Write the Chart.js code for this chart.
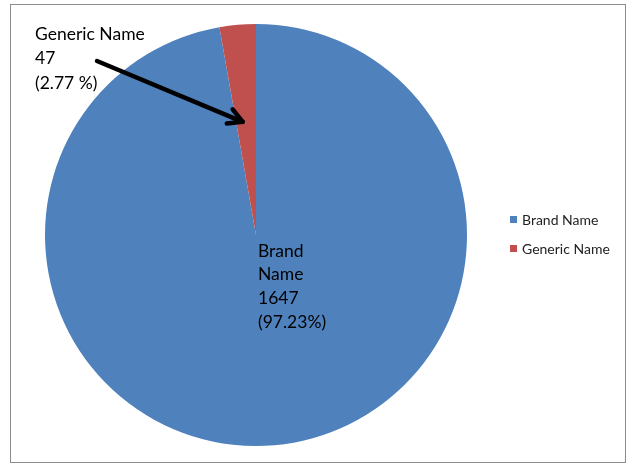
<!DOCTYPE html>
<html>
<head>
<meta charset="utf-8">
<script src="https://cdn.jsdelivr.net/npm/chart.js@4.4.0/dist/chart.umd.min.js"></script>
<style>
  body { margin: 0; background: #fff; }
  #box {
    position: absolute; left: 10px; top: 4px;
    width: 614px; height: 457px;
    border: 1px solid #8c8c8c;
  }
</style>
</head>
<body>
<div id="box"><canvas id="pieChart" width="614" height="457"></canvas></div>
<script>
// data
const categories = ['Brand Name', 'Generic Name'];
const counts = [1647, 47];
const percentLabels = ['(97.23%)', '(2.77 %)'];
const sliceColors = ['#4F81BD', '#C0504D'];

const labelFont = '17.5px Lato, "Open Sans", sans-serif';

// labels, arrow and legend drawn after the pie
const annotate = {
    id: 'annotate',
    afterDraw(chart) {
        const ctx = chart.ctx;
        const arcs = chart.getDatasetMeta(0).data;
        const cx = arcs[0].x, cy = arcs[0].y, r = arcs[0].outerRadius;

        ctx.save();
        ctx.fillStyle = '#000';
        ctx.font = labelFont;
        ctx.textBaseline = 'middle';
        ctx.textAlign = 'left';

        // brand label inside the big slice
        const brandLines = ['Brand', 'Name', String(counts[0]), percentLabels[0]];
        brandLines.forEach((t, i) => ctx.fillText(t, cx + 2, cy + 16 + i * 23.7));

        // generic label outside, top-left
        const gx = cx - 221, gy = cy - 201;
        const genLines = [categories[1], String(counts[1]), percentLabels[1]];
        genLines.forEach((t, i) => ctx.fillText(t, gx, gy + i * 24.5));

        // arrow pointing to the small slice
        const g = arcs[1];
        const mid = (g.startAngle + g.endAngle) / 2;
        const tipX = cx + Math.cos(mid - 0.03) * r * 0.54;
        const tipY = cy + Math.sin(mid - 0.03) * r * 0.54;
        const tailX = gx + 62, tailY = gy + 27;
        const ang = Math.atan2(tipY - tailY, tipX - tailX);
        ctx.strokeStyle = '#000';
        ctx.lineWidth = 4.5;
        ctx.lineCap = 'round';
        ctx.lineJoin = 'round';
        ctx.beginPath();
        ctx.moveTo(tailX, tailY);
        ctx.lineTo(tipX, tipY);
        ctx.stroke();
        ctx.beginPath();
        ctx.moveTo(tipX - Math.cos(ang - 0.5) * 16, tipY - Math.sin(ang - 0.5) * 16);
        ctx.lineTo(tipX, tipY);
        ctx.lineTo(tipX - Math.cos(ang + 0.5) * 16, tipY - Math.sin(ang + 0.5) * 16);
        ctx.stroke();

        // legend
        ctx.font = '14px Lato, "Open Sans", sans-serif';
        categories.forEach((c, i) => {
            const y = 215 + i * 29;
            ctx.fillStyle = sliceColors[i];
            ctx.fillRect(499, y - 4, 7, 7);
            ctx.fillStyle = '#222';
            ctx.fillText(c, 511, y);
        });
        ctx.restore();
    }
};

const pieCtx = document.getElementById('pieChart').getContext('2d');
const pieChart = new Chart(pieCtx, {
    type: 'pie',
    data: {
        labels: categories,
        datasets: [{
            data: counts,
            backgroundColor: sliceColors,
            borderWidth: 0
        }]
    },
    options: {
        responsive: false,
        animation: false,
        layout: { padding: { left: 34, top: 19, right: 158, bottom: 16 } },
        plugins: {
            legend: { display: false },
            tooltip: { enabled: false }
        }
    },
    plugins: [annotate]
});
</script>
</body>
</html>
